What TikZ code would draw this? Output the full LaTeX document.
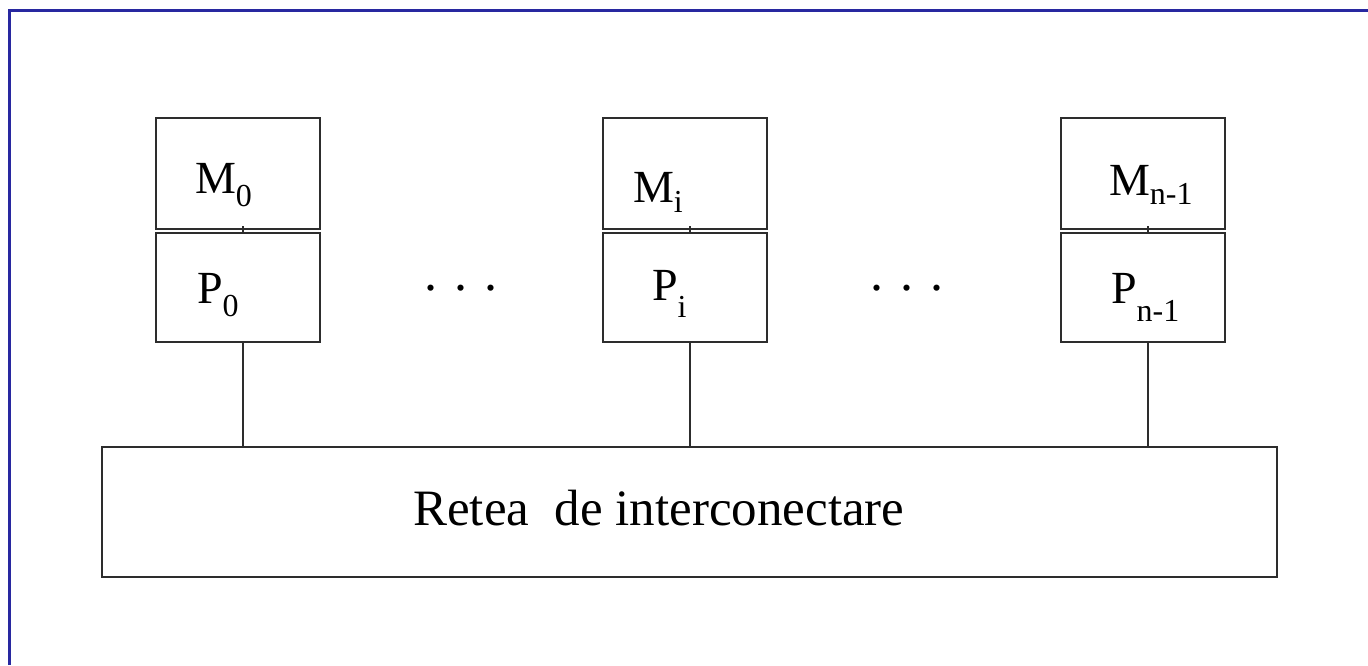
\documentclass[tikz,border=0pt]{standalone}
\usepackage{fontspec}
\setmainfont{Liberation Serif}
\definecolor{framecol}{RGB}{40,40,160}
\definecolor{linecol}{RGB}{45,45,45}
\newcommand\lowsub[2]{\raisebox{-#1pt}{\fontsize{32}{32}\selectfont #2}}
\begin{document}
\begin{tikzpicture}[x=1pt,y=-1pt,
  box/.style={draw=linecol,line width=2.3pt,inner sep=0pt,outer sep=0pt,minimum width=164pt},
  mbox/.style={box,minimum height=111pt},
  pbox/.style={box,minimum height=109pt},
  lbl/.style={anchor=base west,inner sep=0pt,outer sep=0pt,font=\fontsize{46}{46}\selectfont},
  wire/.style={draw=linecol,line width=2.3pt}]
\useasboundingbox (0,0) rectangle (1368,665);
\draw[framecol,line width=3pt] (9,665) -- (9,10) -- (1368,10);

% boxes
\node[mbox] (M0) at (238,173.5) {};
\node[pbox] (P0) at (238,287.5) {};
\node[mbox] (Mi) at (685,173.5) {};
\node[pbox] (Pi) at (685,287.5) {};
\node[mbox] (Mn) at (1143,173.5) {};
\node[pbox] (Pn) at (1143,287.5) {};
\node[draw=linecol,line width=2.3pt,inner sep=0pt,outer sep=0pt,minimum width=1175pt,minimum height=130pt] (net) at (689.5,512) {};

% labels
\node[lbl] (tM0) at (195,193) {M\lowsub{13}{0}};
\node[lbl] (tP0) at (197,303) {P\lowsub{13}{0}};
\node[lbl] (tMi) at (633,202) {M\lowsub{10}{i}};
\node[lbl] (tPi) at (652,300) {P\lowsub{17}{i}};
\node[lbl] (tMn) at (1109,195) {M\lowsub{9}{n-1}};
\node[lbl] (tPn) at (1111,303) {P\lowsub{18}{n-1}};
\node[lbl,font=\fontsize{52}{52}\selectfont] (d1) at (424.5,290) {.\hspace{17pt}.\hspace{17pt}.};
\node[lbl,font=\fontsize{52}{52}\selectfont] (d2) at (870.5,290) {.\hspace{17pt}.\hspace{17pt}.};
\node[anchor=base west,inner sep=0pt,font=\fontsize{51}{51}\selectfont] (tnet) at (413,525) {Retea\ \ de interconectare};

% connectors
\foreach \m/\p in {M0/P0,Mi/Pi,Mn/Pn}{
  \draw[wire] ([xshift=5pt]\m.south) ++(0,-3) -- ([xshift=5pt]\p.north);
  \draw[wire] ([xshift=5pt]\p.south) -- ([xshift=5pt]\p.south |- net.north);
}
\end{tikzpicture}
\end{document}
